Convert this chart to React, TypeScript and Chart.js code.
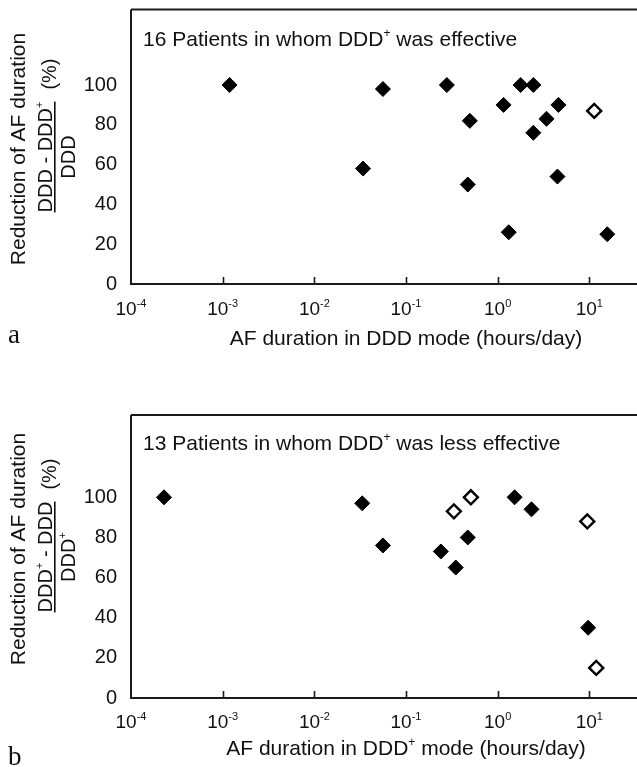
import React, { useEffect, useRef } from "react";
import { Chart, registerables } from "chart.js";

Chart.register(...registerables);

const FONT = '"Liberation Sans", Arial, sans-serif';
const SERIF = '"Liberation Serif", "Times New Roman", serif';
const INK = "#111";

// ---------- data: panel a (DDD+ effective) ----------
const aFilledX = [0.00119, 0.056, 0.279, 0.034, 0.497, 0.472, 1.16, 1.32, 1.78, 2.45, 2.45, 3.41, 4.6, 4.49, 15.7];
const aFilledY = [100, 98, 100, 58, 82, 50, 90, 26, 100, 100, 76, 83, 90, 54, 25];
const aOpenX = [11.3];
const aOpenY = [87];

// ---------- data: panel b (DDD+ less effective) ----------
const bFilledX = [0.000229, 0.0333, 0.056, 0.24, 0.349, 0.472, 1.53, 2.34, 9.7];
const bFilledY = [100, 97, 76, 73, 65, 80, 100, 94, 35];
const bOpenX = [0.333, 0.51, 9.5, 11.9];
const bOpenY = [93, 100, 88, 15];

// ---------- axes ----------
const xTickExponents = [-4, -3, -2, -1, 0, 1, 2];
const yTickValues = [0, 20, 40, 60, 80, 100];

type Part = { t: string; sup?: boolean };

const titleA: Part[] = [{ t: "16 Patients in whom DDD" }, { t: "+", sup: true }, { t: " was effective" }];
const titleB: Part[] = [{ t: "13 Patients in whom DDD" }, { t: "+", sup: true }, { t: " was less effective" }];
const xTitleA: Part[] = [{ t: "AF duration in DDD mode (hours/day)" }];
const xTitleB: Part[] = [{ t: "AF duration in DDD" }, { t: "+", sup: true }, { t: " mode (hours/day)" }];
const numA: Part[] = [{ t: "DDD - DDD" }, { t: "+", sup: true }];
const denA: Part[] = [{ t: "DDD" }];
const numB: Part[] = [{ t: "DDD" }, { t: "+", sup: true }, { t: " - DDD" }];
const denB: Part[] = [{ t: "DDD" }, { t: "+", sup: true }];

function measureRich(ctx: CanvasRenderingContext2D, parts: Part[], size: number, supSize: number) {
  let w = 0;
  for (const p of parts) {
    ctx.font = `${p.sup ? supSize : size}px ${FONT}`;
    w += ctx.measureText(p.t).width;
  }
  return w;
}

function drawRich(
  ctx: CanvasRenderingContext2D,
  parts: Part[],
  x: number,
  y: number,
  size: number,
  supSize: number,
  supRaise: number,
  align: "left" | "center"
) {
  const w = measureRich(ctx, parts, size, supSize);
  let cx = align === "center" ? x - w / 2 : x;
  ctx.textAlign = "left";
  ctx.textBaseline = "alphabetic";
  for (const p of parts) {
    ctx.font = `${p.sup ? supSize : size}px ${FONT}`;
    ctx.fillText(p.t, cx, p.sup ? y - supRaise : y);
    cx += ctx.measureText(p.t).width;
  }
  return w;
}

type Panel = {
  filledX: number[];
  filledY: number[];
  openX: number[];
  openY: number[];
  yMax: number;
  height: number;
  padTop: number;
  xAxisHeight: number;
  title: Part[];
  xTitle: Part[];
  num: Part[];
  den: Part[];
  letter: string;
  titleBaseline: number;
  yTitleCenter: number;
  letterBaseline: number;
  xTickBaseline: number;
  xTitleBaseline: number;
};

const toPoints = (xs: number[], ys: number[]) => xs.map((x, i) => ({ x, y: ys[i] }));

function makeChart(canvas: HTMLCanvasElement, p: Panel) {
  const decor = {
    id: "decor",
    afterDraw(chart: any) {
      const ctx: CanvasRenderingContext2D = chart.ctx;
      const { left, right, top, bottom } = chart.chartArea;
      const xs = chart.scales.x;
      ctx.save();
      // frame
      ctx.strokeStyle = "#1a1a1a";
      ctx.lineWidth = 2;
      ctx.beginPath();
      ctx.moveTo(left, top);
      ctx.lineTo(right, top);
      ctx.moveTo(left, top);
      ctx.lineTo(left, bottom);
      ctx.moveTo(left - 1, bottom);
      ctx.lineTo(right, bottom);
      ctx.stroke();
      // inward x ticks
      ctx.lineWidth = 1.6;
      ctx.beginPath();
      for (const e of xTickExponents.slice(1, -1)) {
        const px = Math.round(xs.getPixelForValue(Math.pow(10, e))) + 0.5;
        ctx.moveTo(px, bottom);
        ctx.lineTo(px, bottom - 7);
      }
      ctx.stroke();
      // x tick labels
      ctx.fillStyle = INK;
      for (const e of xTickExponents) {
        const px = xs.getPixelForValue(Math.pow(10, e));
        drawRich(ctx, [{ t: "10" }, { t: String(e), sup: true }], px, p.xTickBaseline, 19, 11, 8, "center");
      }
      // x title
      drawRich(ctx, p.xTitle, (left + right) / 2, p.xTitleBaseline, 21, 12, 9, "center");
      // inner title
      drawRich(ctx, p.title, left + 12, p.titleBaseline, 21, 12, 9, "left");
      // y title (rotated)
      ctx.translate(0, p.yTitleCenter);
      ctx.rotate(-Math.PI / 2);
      ctx.font = `21px ${FONT}`;
      ctx.textAlign = "center";
      ctx.textBaseline = "alphabetic";
      ctx.fillText("Reduction of AF duration", 0, 25);
      const numW = measureRich(ctx, p.num, 20, 11);
      const denW = measureRich(ctx, p.den, 20, 11);
      const W = Math.max(numW, denW);
      const uf = -8;
      drawRich(ctx, p.num, uf, 52, 20, 11, 9, "center");
      ctx.fillRect(uf - W / 2, 54, W, 1.6);
      drawRich(ctx, p.den, uf, 75, 20, 11, 9, "center");
      ctx.font = `20px ${FONT}`;
      ctx.textAlign = "left";
      ctx.fillText("(%)", uf + W / 2 + 12, 56);
      ctx.restore();
      // panel letter
      ctx.save();
      ctx.fillStyle = INK;
      ctx.font = `27px ${SERIF}`;
      ctx.textAlign = "left";
      ctx.textBaseline = "alphabetic";
      ctx.fillText(p.letter, 8, p.letterBaseline);
      ctx.restore();
    },
  };

  return new Chart(canvas, {
    type: "scatter",
    data: {
      datasets: [
        {
          data: toPoints(p.filledX, p.filledY),
          pointStyle: "rectRot",
          pointRadius: 7.5,
          pointHoverRadius: 7.5,
          backgroundColor: "#000",
          borderColor: "#000",
          pointBorderWidth: 1,
          showLine: false,
        },
        {
          data: toPoints(p.openX, p.openY),
          pointStyle: "rectRot",
          pointRadius: 7,
          pointHoverRadius: 7,
          backgroundColor: "#fff",
          borderColor: "#000",
          pointBorderWidth: 2.4,
          showLine: false,
        },
      ],
    },
    options: {
      responsive: false,
      animation: false,
      devicePixelRatio: 1,
      layout: { padding: { top: p.padTop, right: 19, left: 0, bottom: 0 } },
      plugins: { legend: { display: false }, tooltip: { enabled: false } },
      events: [],
      scales: {
        x: {
          type: "logarithmic",
          min: Math.pow(10, xTickExponents[0]),
          max: Math.pow(10, xTickExponents[xTickExponents.length - 1]),
          ticks: { display: false },
          grid: { display: false, drawTicks: false },
          border: { display: false },
          afterFit: (s: any) => {
            s.height = p.xAxisHeight;
            s.paddingLeft = 0;
            s.paddingRight = 0;
            s.paddingTop = 0;
            s.paddingBottom = 0;
          },
        },
        y: {
          type: "linear",
          min: 0,
          max: p.yMax,
          afterBuildTicks: (s: any) => {
            s.ticks = yTickValues.map((v) => ({ value: v }));
          },
          ticks: { font: { family: FONT, size: 20 }, color: INK, padding: 14 },
          grid: { display: false, drawTicks: false },
          border: { display: false },
          afterFit: (s: any) => {
            s.width = 131;
            s.paddingTop = 0;
            s.paddingBottom = 0;
            s.paddingLeft = 0;
            s.paddingRight = 0;
          },
        },
      },
    } as any,
    plugins: [decor],
  });
}

const panelA: Panel = {
  filledX: aFilledX,
  filledY: aFilledY,
  openX: aOpenX,
  openY: aOpenY,
  yMax: 138,
  height: 370,
  padTop: 8,
  xAxisHeight: 86,
  title: titleA,
  xTitle: xTitleA,
  num: numA,
  den: denA,
  letter: "a",
  titleBaseline: 46,
  yTitleCenter: 149,
  letterBaseline: 343,
  xTickBaseline: 315,
  xTitleBaseline: 345,
};

const panelB: Panel = {
  filledX: bFilledX,
  filledY: bFilledY,
  openX: bOpenX,
  openY: bOpenY,
  yMax: 141,
  height: 387,
  padTop: 35,
  xAxisHeight: 69,
  title: titleB,
  xTitle: xTitleB,
  num: numB,
  den: denB,
  letter: "b",
  titleBaseline: 70,
  yTitleCenter: 169,
  letterBaseline: 385,
  xTickBaseline: 348,
  xTitleBaseline: 375,
};

export default function App() {
  const refA = useRef<HTMLCanvasElement | null>(null);
  const refB = useRef<HTMLCanvasElement | null>(null);

  useEffect(() => {
    const cA = makeChart(refA.current!, panelA);
    const cB = makeChart(refB.current!, panelB);
    return () => {
      cA.destroy();
      cB.destroy();
    };
  }, []);

  return (
    <div
      style={{
        position: "absolute",
        left: 0,
        top: 0,
        width: 637,
        height: 767,
        overflow: "hidden",
        background: "#fff",
      }}
    >
      <canvas
        ref={refA}
        width={700}
        height={panelA.height}
        style={{ position: "absolute", left: 0, top: 0, width: 700, height: panelA.height }}
      />
      <canvas
        ref={refB}
        width={700}
        height={panelB.height}
        style={{ position: "absolute", left: 0, top: 380, width: 700, height: panelB.height }}
      />
    </div>
  );
}
